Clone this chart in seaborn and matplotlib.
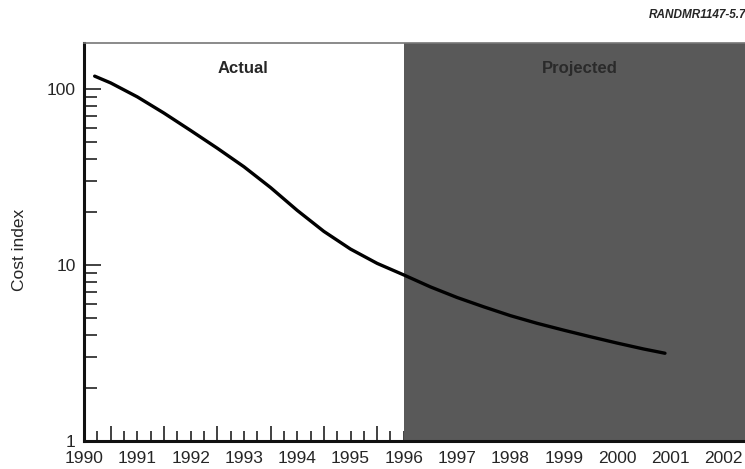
import numpy as np
import matplotlib
matplotlib.use("Agg")
import matplotlib.pyplot as plt
import matplotlib.ticker as mticker
import seaborn as sns

# cost index (log scale)
years = [1990.2, 1990.5, 1991.0, 1991.5, 1992.0, 1992.5, 1993.0, 1993.5,
         1994.0, 1994.5, 1995.0, 1995.5, 1996.0, 1996.5, 1997.0, 1997.5,
         1998.0, 1998.5, 1999.0, 1999.5, 2000.0, 2000.5, 2000.9]
cost = [118, 108, 90, 72.8, 58, 46, 36.1, 27.5,
        20.4, 15.5, 12.3, 10.2, 8.77, 7.5, 6.53, 5.78,
        5.15, 4.66, 4.26, 3.91, 3.6, 3.33, 3.15]

year_labels = list(range(1990, 2003))
projection_start = 1996

sns.set_style("ticks")
plt.rcParams['font.family'] = ['Liberation Sans', 'DejaVu Sans']

fig = plt.figure(figsize=(7.45, 4.69), dpi=100)
ax = fig.add_axes([84 / 745, 1 - 441 / 469, 1 - 84 / 745, (441 - 43) / 469])
ax.set_axisbelow(True)

# projected region shading
ax.axvspan(projection_start, 2010, color='#595959', lw=0, zorder=1)

sns.lineplot(x=years, y=cost, ax=ax, color='black', lw=2.4, zorder=3)
ax.lines[0].set_solid_joinstyle('round')
ax.lines[0].set_solid_capstyle('round')

ax.set_yscale('log')
ax.set_ylim(1, 182)
ax.set_xlim(1990, 1990 + (745 - 84) / 53.3)

# y ticks
ax.yaxis.set_major_locator(mticker.FixedLocator([1, 10, 100]))
ax.yaxis.set_major_formatter(mticker.FuncFormatter(lambda v, p: f"{v:g}"))
ax.yaxis.set_minor_locator(mticker.LogLocator(base=10, subs=np.arange(2, 10)))
ax.yaxis.set_minor_formatter(mticker.NullFormatter())
ax.tick_params(axis='y', which='major', direction='in', length=12, width=1.3,
               labelsize=12.5, pad=6, color='#333333')
ax.tick_params(axis='y', which='minor', direction='in', length=9, width=1.3,
               color='#333333')

# x ticks: tall ones at half years, short ones at quarters, labels at years
quarters = [y + q for y in year_labels for q in (0.0, 0.25, 0.75)]
halves = [y + 0.5 for y in year_labels]
ax.xaxis.set_major_locator(mticker.FixedLocator(halves))
ax.xaxis.set_major_formatter(mticker.NullFormatter())
ax.xaxis.set_minor_locator(mticker.FixedLocator(quarters))
ax.xaxis.set_minor_formatter(mticker.FuncFormatter(
    lambda v, p: f"{int(round(v))}" if abs(v - round(v)) < 1e-6 else ""))
ax.tick_params(axis='x', which='major', direction='in', length=11, width=1.3,
               color='#333333')
ax.tick_params(axis='x', which='minor', direction='in', length=7, width=1.3,
               color='#333333', labelsize=12.5, pad=7)

ax.set_ylabel("Cost index", fontsize=12.5)
ax.yaxis.set_label_coords(-0.086, 0.48)

for side in ['left', 'bottom']:
    ax.spines[side].set_linewidth(2.2)
    ax.spines[side].set_color('#111111')
ax.spines['top'].set_linewidth(1.2)
ax.spines['top'].set_color('#777777')
ax.spines['right'].set_visible(False)

ax.text(1992.98, 130, "Actual", fontsize=12, fontweight='bold',
        ha='center', va='center', zorder=4)
ax.text(1999.3, 130, "Projected", fontsize=12, fontweight='bold',
        ha='center', va='center', color='#2a2a2a', zorder=4)

fig.text(649 / 745, 1 - 15 / 469, "RANDMR1147-5.7", fontsize=8.5,
         fontweight='bold', style='italic', ha='left', va='center')

fig.savefig("out.png", dpi=100)
